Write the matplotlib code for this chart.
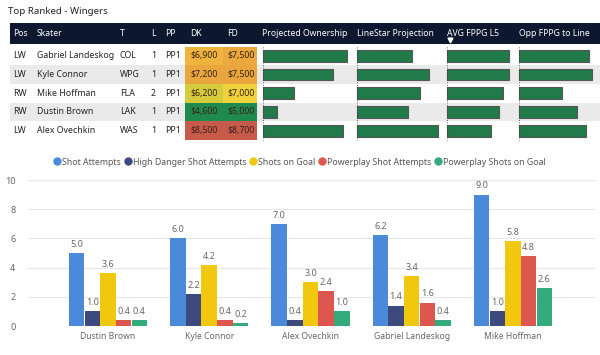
import numpy as np
import matplotlib
matplotlib.use("Agg")
import matplotlib.pyplot as plt
from matplotlib.patches import Rectangle
from matplotlib.lines import Line2D

plt.rcParams['font.family'] = ['Noto Sans', 'DejaVu Sans']

# ---- tabla superior ----
pos = ["LW", "LW", "RW", "RW", "LW"]
skaters = ["Gabriel Landeskog", "Kyle Connor", "Mike Hoffman", "Dustin Brown", "Alex Ovechkin"]
teams = ["COL", "WPG", "FLA", "LAK", "WAS"]
lines = ["1", "1", "2", "1", "1"]
pp = ["PP1", "PP1", "PP1", "PP1", "PP1"]
dk = ["$6,900", "$7,200", "$6,200", "$4,600", "$8,500"]
fd = ["$7,500", "$7,500", "$7,000", "$5,000", "$8,700"]
dk_col = ["#efb43e", "#eaa63e", "#d4cc3c", "#1f8a4e", "#c85a4c"]
fd_col = ["#eba83e", "#eaa63e", "#f0d23c", "#1f8a4e", "#c85a4c"]
proj_own = [16.8, 14.0, 6.2, 2.8, 16.0]
linestar = [13.6, 17.8, 15.6, 12.6, 20.0]
avg_l5 = [12.4, 12.3, 11.2, 10.4, 8.8]
opp_line = [23.0, 24.0, 14.1, 19.1, 22.0]

# ---- grafica de barras ----
players = ["Dustin Brown", "Kyle Connor", "Alex Ovechkin", "Gabriel Landeskog", "Mike Hoffman"]
series = ["Shot Attempts", "High Danger Shot Attempts", "Shots on Goal",
          "Powerplay Shot Attempts", "Powerplay Shots on Goal"]
shot_att = [5.0, 6.0, 7.0, 6.2, 9.0]
hd_att = [1.0, 2.2, 0.4, 1.4, 1.0]
shots_goal = [3.6, 4.2, 3.0, 3.4, 5.8]
pp_att = [0.4, 0.4, 2.4, 1.6, 4.8]
pp_goal = [0.4, 0.2, 1.0, 0.4, 2.6]
colores = ["#4a8ad9", "#3c4a7e", "#f2c80f", "#dd574e", "#33ab7d"]

W, H = 600, 355
fig = plt.figure(figsize=(6, 3.55), dpi=100)
ax = fig.add_axes([0, 0, 1, 1])
ax.set_xlim(0, W)
ax.set_ylim(H, 0)
ax.axis("off")

txt = "#252423"
ax.text(8, 12, "Top Ranked - Wingers", fontsize=7, color=txt, va="center")

# encabezado
ax.add_patch(Rectangle((10, 23), W - 10, 21, color="#0e1730", lw=0))
cab = [(13, "Pos"), (37, "Skater"), (120, "T"), (151, "L"), (165, "PP"), (190, "DK"),
       (227, "FD"), (262, "Projected Ownership"), (357, "LineStar Projection"),
       (447, "AVG FPPG L5"), (519, "Opp FPPG to Line")]
for x, t in cab:
    ax.text(x, 33, t, fontsize=6.2, color="white", va="center")
ax.plot([450], [39.5], marker="v", color="white", ms=3.5)

top, rh = 46.5, 18.7
for i in range(5):
    y0 = top + i * rh
    yc = y0 + rh / 2
    if i % 2 == 1:
        ax.add_patch(Rectangle((10, y0), W - 10, rh, color="#eaeaea", lw=0))
    ax.add_patch(Rectangle((185, y0), 38, rh, color=dk_col[i], lw=0))
    ax.add_patch(Rectangle((223, y0), 34, rh, color=fd_col[i], lw=0))
    for x, t in [(13, pos[i]), (37, skaters[i]), (120, teams[i]), (151, lines[i]),
                 (165, pp[i]), (190, dk[i]), (227, fd[i])]:
        c = "#3a2015" if x >= 190 else txt
        ax.text(x, yc, t, fontsize=6.3, color=c, va="center")

# barras de datos
cols = [(263, 84, proj_own), (357, 81, linestar), (447, 62, avg_l5), (519, 73, opp_line)]
for x0, maxpx, vals in cols:
    m = max(vals)
    for i, v in enumerate(vals):
        y0 = top + i * rh + 3.5
        ax.add_patch(Rectangle((x0, y0), v / m * maxpx, rh - 7, facecolor="#217a4a",
                               edgecolor="#555555", lw=0.8))
    ax.plot([x0, x0], [top, top + 5 * rh], color="#333333", lw=0.6, ls=(0, (1, 2)))

# ---- grafica inferior ----
ax2 = fig.add_axes([28 / W, (H - 326) / H, 567 / W, 146 / H])
datos = [shot_att, hd_att, shots_goal, pp_att, pp_goal]
x = np.arange(len(players))
bw = 0.153
for k, (vals, c) in enumerate(zip(datos, colores)):
    xs = x + (k - 2) * 0.155
    ax2.bar(xs, vals, width=bw, color=c, zorder=3)
    for xi, v in zip(xs, vals):
        ax2.annotate(f"{v:.1f}", (xi, v), xytext=(0, 3), textcoords="offset points",
                     ha="center", va="bottom", fontsize=6.5, color="#666666")
ax2.set_xlim(-0.79, 4.81)
ax2.set_ylim(0, 10)
ax2.set_yticks([0, 2, 4, 6, 8, 10])
ax2.set_xticks(x)
ax2.set_xticklabels(players)
ax2.tick_params(axis="both", length=0, labelsize=6.5, labelcolor="#666666")
ax2.tick_params(axis="x", labelsize=6.2, pad=4)
ax2.tick_params(axis="y", pad=9)
ax2.grid(axis="y", color="#e6e6e6", lw=0.8, zorder=0)
for s in ax2.spines.values():
    s.set_visible(False)
ax2.patch.set_alpha(0)

handles = [Line2D([], [], marker="o", ls="", color=c, ms=5) for c in colores]
fig.legend(handles, series, loc="center", bbox_to_anchor=(0.5, 1 - 162 / H), ncol=5,
           frameon=False, fontsize=6.3, handlelength=0.7, handletextpad=0.2,
           columnspacing=0.45, labelcolor="#555555")

fig.savefig("out.png", dpi=100)
